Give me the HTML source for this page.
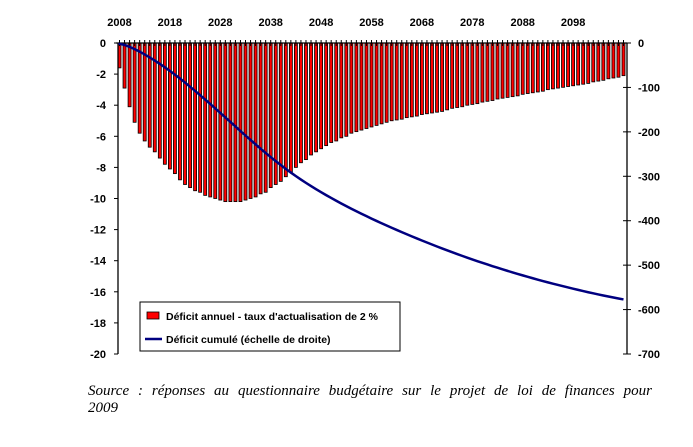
<!DOCTYPE html>
<html><head><meta charset="utf-8"><style>
body{margin:0;background:#fff;width:693px;height:447px;overflow:hidden;font-family:"Liberation Sans",sans-serif}
svg{position:absolute;left:0;top:0}
.src{position:absolute;left:88px;top:383px;width:564px;font:italic 15px "Liberation Serif",serif;line-height:17px;color:#000}
.l1{text-align:justify;text-align-last:justify}
</style></head><body>
<svg id="c" width="693" height="447"></svg>
<div class="src"><div class="l1">Source : réponses au questionnaire budgétaire sur le projet de loi de finances pour</div><div>2009</div></div>
<script>
const years=[];for(let y=2008;y<=2108;y++)years.push(y);
const deficit=[-1.6,-2.9,-4.1,-5.1,-5.8,-6.3,-6.7,-7.0,-7.4,-7.8,-8.1,-8.4,-8.8,-9.1,-9.3,-9.5,-9.6,-9.8,-9.9,-10.0,-10.1,-10.2,-10.2,-10.2,-10.2,-10.1,-10.0,-9.9,-9.7,-9.6,-9.3,-9.1,-8.9,-8.6,-8.3,-8.0,-7.7,-7.5,-7.2,-7.0,-6.8,-6.6,
-6.4,-6.3,-6.1,-6.0,-5.8,-5.7,-5.6,-5.5,-5.4,-5.3,-5.2,-5.1,-5.0,-4.95,-4.9,-4.8,-4.75,-4.7,-4.6,-4.55,-4.5,-4.45,-4.4,
-4.3,-4.2,-4.15,-4.1,-4.0,-3.95,-3.9,-3.8,-3.75,-3.7,-3.6,-3.55,-3.5,-3.45,-3.4,-3.3,-3.25,-3.2,-3.15,-3.1,-3.0,-2.95,-2.9,-2.85,-2.8,-2.75,-2.7,-2.65,-2.6,-2.5,-2.45,-2.4,-2.3,-2.25,-2.2,-2.1];
const leftTicks=[0,-2,-4,-6,-8,-10,-12,-14,-16,-18,-20];
const rightTicks=[0,-100,-200,-300,-400,-500,-600,-700];
const yearLabels=[2008,2018,2028,2038,2048,2058,2068,2078,2088,2098];
const cumul=[];let s=0;for(const d of deficit){s+=d;cumul.push(s);}
const X0=118,Y0=43,Y1=354,XR=627;
const xs=y=>X0+(y-2008)*5.04+1.5;
const yl=v=>Y0+(Y1-Y0)*(v/-20);
const yr=v=>Y0+(Y1-Y0)*(v/-700);
const svg=document.getElementById('c');const NS='http://www.w3.org/2000/svg';
function mk(t,a,p){const e=document.createElementNS(NS,t);for(const k in a)e.setAttribute(k,a[k]);(p||svg).appendChild(e);return e;}
years.forEach((y,i)=>{const v=deficit[i];
const r=mk('rect',{x:xs(y)-1.5,y:Y0,width:3,height:yl(v)-Y0,fill:'#f00',stroke:'#000','stroke-width':0.8});


const t=mk('line',{x1:xs(y),x2:xs(y),y1:Y0-3,y2:Y0+3,stroke:'#000','stroke-width':1});

});
let ax=mk('line',{x1:X0-2,x2:XR,y1:Y0,y2:Y0,stroke:'#000','stroke-width':1.3});

ax=mk('line',{x1:X0,x2:X0,y1:Y0,y2:Y1,stroke:'#000','stroke-width':1.3});

ax=mk('line',{x1:XR,x2:XR,y1:Y0,y2:Y1,stroke:'#000','stroke-width':1.3});

leftTicks.forEach(v=>{mk('line',{x1:X0-4,x2:X0,y1:yl(v),y2:yl(v),stroke:'#000'});
const t=mk('text',{x:106,y:yl(v)+4,'text-anchor':'end','font-size':11,'font-weight':'bold'});t.textContent=v;
});
rightTicks.forEach(v=>{mk('line',{x1:XR-4,x2:XR+4,y1:yr(v),y2:yr(v),stroke:'#000'});
const t=mk('text',{x:638,y:yr(v)+4,'font-size':11,'font-weight':'bold'});t.textContent=v;
});
yearLabels.forEach(y=>{const t=mk('text',{x:xs(y),y:26,'text-anchor':'middle','font-size':11,'font-weight':'bold'});t.textContent=y;
});
let d='M'+xs(2008)+' '+Y0;years.forEach((y,i)=>{d+=' L'+xs(y)+' '+yr(cumul[i]);});
const ln=mk('path',{d:d,fill:'none',stroke:'#000080','stroke-width':2.5});

const lg=mk('g',{});
mk('rect',{x:140,y:302,width:260,height:49,fill:'#fff',stroke:'#000','stroke-width':1},lg);
mk('rect',{x:147,y:312,width:12,height:7,fill:'#f00',stroke:'#000','stroke-width':0.8},lg);
let t=mk('text',{x:166,y:320,'font-size':10.5,'font-weight':'bold'},lg);t.textContent="Déficit annuel - taux d'actualisation de 2 %";
mk('line',{x1:145,x2:162,y1:339,y2:339,stroke:'#000080','stroke-width':2.5},lg);
t=mk('text',{x:166,y:343,'font-size':10.5,'font-weight':'bold'},lg);t.textContent="Déficit cumulé  (échelle de droite)";
</script>
</body></html>
